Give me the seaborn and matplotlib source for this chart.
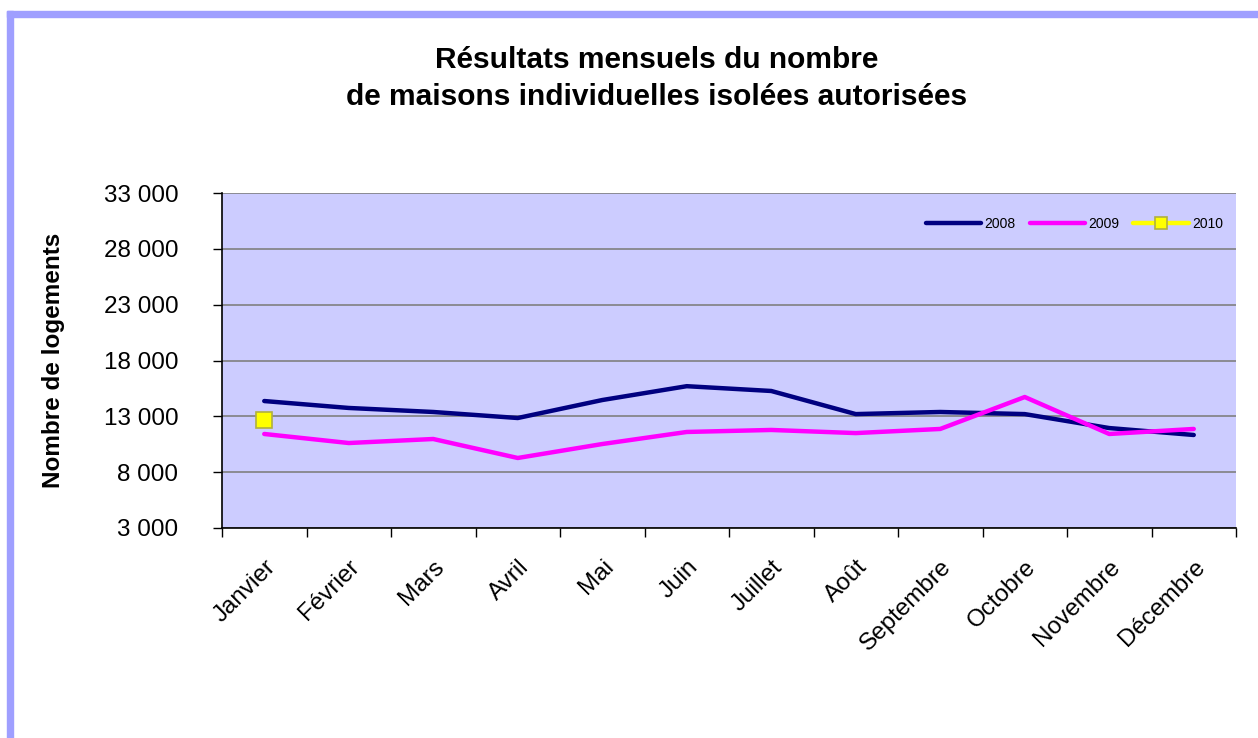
import numpy as np
import pandas as pd
import matplotlib
matplotlib.use("Agg")
import matplotlib.pyplot as plt
from matplotlib.patches import Rectangle
from matplotlib.ticker import FuncFormatter, FixedLocator
import seaborn as sns

# data
mois = ['Janvier', 'Février', 'Mars', 'Avril', 'Mai', 'Juin', 'Juillet',
        'Août', 'Septembre', 'Octobre', 'Novembre', 'Décembre']
v2008 = [14370, 13750, 13390, 12850, 14460, 15700, 15270,
         13200, 13390, 13200, 11950, 11330]
v2009 = [11420, 10610, 10970, 9270, 10520, 11600, 11780,
         11500, 11870, 14730, 11420, 11870]
v2010 = [12670]

sns.set_style("white")
plt.rcParams['font.family'] = ['Liberation Sans', 'DejaVu Sans']
plt.rcParams.update({'text.color': 'black', 'axes.labelcolor': 'black',
                     'xtick.color': 'black', 'ytick.color': 'black'})

fig = plt.figure(figsize=(12.58, 7.38), dpi=100)
ax = fig.add_axes([222/1258, 1-528/738, (1236-222)/1258, (528-193)/738])
ax.set_facecolor('#CCCCFF')

df08 = pd.DataFrame({'pos': np.arange(len(mois)), 'val': v2008})
df09 = pd.DataFrame({'pos': np.arange(len(mois)), 'val': v2009})
df10 = pd.DataFrame({'pos': np.arange(len(v2010)), 'val': v2010})

sns.lineplot(data=df08, x='pos', y='val', ax=ax, color='#000080', lw=3.2,
             label='2008', zorder=3)
sns.lineplot(data=df09, x='pos', y='val', ax=ax, color='#FF00FF', lw=3.2,
             label='2009', zorder=3)
sns.lineplot(data=df10, x='pos', y='val', ax=ax, color='#FFFF00', lw=3.2,
             marker='s', markersize=11, markerfacecolor='#FFFF00',
             markeredgecolor='#B0B040', markeredgewidth=1.2,
             label='2010', zorder=4)

ax.set_xlim(-0.5, len(mois) - 0.5)
ax.set_ylim(3000, 33000)
yt = np.arange(3000, 33001, 5000)
ax.set_yticks(yt)
ax.yaxis.set_major_formatter(FuncFormatter(lambda v, p: f"{int(v):,}".replace(',', ' ')))
ax.yaxis.grid(True, color='#808080', lw=1.2)
ax.set_axisbelow(True)

ax.set_xticks(np.arange(len(mois)))
ax.set_xticklabels(mois, rotation=45, ha='right', rotation_mode='anchor')
ax.xaxis.set_minor_locator(FixedLocator(np.arange(-0.5, len(mois), 1)))
ax.tick_params(axis='x', which='major', length=0, labelsize=17.5, pad=20)
ax.tick_params(axis='x', which='minor', length=6.5, width=1, color='black', direction='out', bottom=True)
ax.tick_params(axis='y', length=6.5, width=1, color='black', direction='out', left=True,
               labelsize=17.5, pad=25)

for s in ['top', 'right']:
    ax.spines[s].set_visible(False)
for s in ['left', 'bottom']:
    ax.spines[s].set_color('black')
    ax.spines[s].set_linewidth(1.2)

ax.set_xlabel('')
ax.set_ylabel('Nombre de logements', fontsize=17.5, fontweight='bold')
ax.yaxis.set_label_coords((65 - 222) / 1014, 0.5)

ax.legend(loc='upper right', ncol=3, frameon=False, fontsize=10,
          handlelength=4.0, handletextpad=0.25, columnspacing=1.0,
          markerscale=0.75, bbox_to_anchor=(1.0, 0.965))

fig.text(657/1258, 1-60/738, 'Résultats mensuels du nombre', ha='center', va='center',
         fontsize=21.5, fontweight='bold')
fig.text(657/1258, 1-97/738, 'de maisons individuelles isolées autorisées', ha='center',
         va='center', fontsize=21.5, fontweight='bold')

# frame of the chart area
fig.patches.append(Rectangle((7/1258, 1-17/738), 1, 6/738, transform=fig.transFigure,
                             color='#9F9FFF', zorder=0))
fig.patches.append(Rectangle((7/1258, 0), 6/1258, 1-11/738, transform=fig.transFigure,
                             color='#9F9FFF', zorder=0))

fig.savefig('out.png', dpi=100)
